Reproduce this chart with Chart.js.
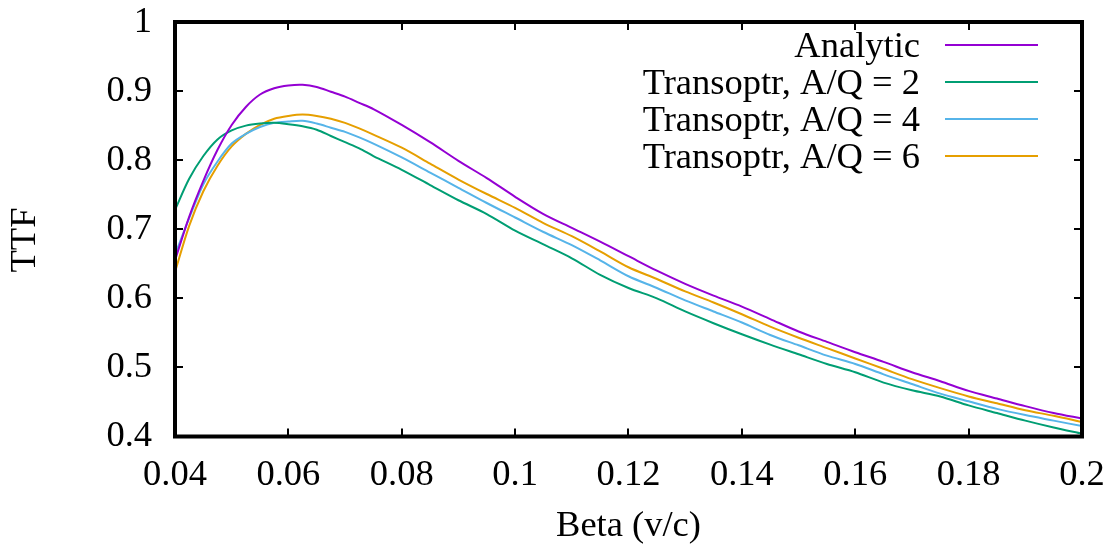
<!DOCTYPE html>
<html lang="en">
<head>
    <meta charset="UTF-8">
    <title>TTF vs Beta</title>
    <script src="https://cdn.jsdelivr.net/npm/chart.js"></script>
    <style>
        html, body { margin: 0; padding: 0; background: #fff; }
        #wrap { width: 1115px; height: 546px; }
    </style>
</head>
<body>
    <div id="wrap">
        <canvas id="ttfChart" width="1115" height="546"></canvas>
    </div>

    <script>
        // beta grid shared by all curves
        const beta = [
            0.04, 0.0425, 0.045, 0.0475, 0.05, 0.0525, 0.055, 0.0575, 0.06, 0.0625,
            0.065, 0.0675, 0.07, 0.0725, 0.075, 0.08, 0.085, 0.09, 0.095, 0.10,
            0.105, 0.11, 0.115, 0.12, 0.125, 0.13, 0.135, 0.14, 0.145, 0.15,
            0.155, 0.16, 0.165, 0.17, 0.175, 0.18, 0.185, 0.19, 0.195, 0.2
        ];

        const analytic = [
            0.655, 0.718, 0.770, 0.815, 0.851, 0.877, 0.895, 0.904, 0.908, 0.909,
            0.906, 0.899, 0.892, 0.883, 0.874, 0.851, 0.826, 0.799, 0.774, 0.747,
            0.722, 0.702, 0.682, 0.661, 0.640, 0.621, 0.604, 0.588, 0.570, 0.552,
            0.537, 0.522, 0.508, 0.493, 0.480, 0.466, 0.455, 0.444, 0.434, 0.426
        ];

        const aq2 = [
            0.728, 0.773, 0.806, 0.830, 0.843, 0.850, 0.853, 0.854, 0.852, 0.849,
            0.844, 0.835, 0.826, 0.817, 0.806, 0.786, 0.764, 0.742, 0.722, 0.698,
            0.678, 0.658, 0.634, 0.615, 0.600, 0.581, 0.564, 0.548, 0.533, 0.519,
            0.505, 0.493, 0.478, 0.467, 0.458, 0.445, 0.434, 0.423, 0.413, 0.404
        ];

        const aq4 = [
            0.663, 0.716, 0.765, 0.798, 0.824, 0.838, 0.848, 0.854, 0.856, 0.857,
            0.853, 0.847, 0.841, 0.833, 0.824, 0.804, 0.782, 0.760, 0.738, 0.717,
            0.696, 0.677, 0.655, 0.632, 0.615, 0.597, 0.581, 0.565, 0.547, 0.532,
            0.517, 0.505, 0.490, 0.476, 0.462, 0.451, 0.440, 0.431, 0.423, 0.415
        ];

        const aq6 = [
            0.638, 0.705, 0.755, 0.792, 0.820, 0.838, 0.851, 0.860, 0.864, 0.866,
            0.864, 0.860, 0.854, 0.846, 0.837, 0.818, 0.795, 0.772, 0.751, 0.731,
            0.709, 0.690, 0.668, 0.645, 0.628, 0.610, 0.594, 0.577, 0.559, 0.543,
            0.528, 0.513, 0.498, 0.483, 0.470, 0.458, 0.448, 0.438, 0.430, 0.421
        ];

        const seriesNames = ['Analytic', 'Transoptr, A/Q = 2', 'Transoptr, A/Q = 4', 'Transoptr, A/Q = 6'];
        const seriesColors = ['#9400d3', '#009e73', '#56b4e9', '#e69f00'];

        const xTicks = [0.04, 0.06, 0.08, 0.1, 0.12, 0.14, 0.16, 0.18, 0.2];
        const yTicks = [0.4, 0.5, 0.6, 0.7, 0.8, 0.9, 1];

        const FONT = '"Liberation Serif", "Times New Roman", serif';
        const FONT_SIZE = 36.5;

        const toPoints = vals => vals.map((v, i) => ({ x: beta[i], y: v }));
        const fmt = v => String(+v.toFixed(2));

        // keep tick labels from pushing the plot area around
        const noOverflow = s => {
            s.paddingTop = 0; s.paddingBottom = 0;
            s.paddingLeft = 0; s.paddingRight = 0;
        };

        // gnuplot-like frame: thick border, inward ticks on all four sides,
        // key in the top right corner, axis titles
        const frame = {
            id: 'frame',
            afterDatasetsDraw(chart) {
                const { ctx, chartArea: a, scales } = chart;
                ctx.save();
                ctx.strokeStyle = '#000';

                // ticks
                ctx.lineWidth = 2;
                const tl = 8;
                ctx.beginPath();
                xTicks.forEach(t => {
                    const px = Math.round(scales.x.getPixelForValue(t));
                    ctx.moveTo(px, a.bottom); ctx.lineTo(px, a.bottom - tl);
                    ctx.moveTo(px, a.top); ctx.lineTo(px, a.top + tl);
                });
                yTicks.forEach(t => {
                    const py = Math.round(scales.y.getPixelForValue(t));
                    ctx.moveTo(a.left, py); ctx.lineTo(a.left + tl, py);
                    ctx.moveTo(a.right, py); ctx.lineTo(a.right - tl, py);
                });
                ctx.stroke();

                // border
                ctx.lineWidth = 4;
                ctx.strokeRect(a.left, a.top, a.right - a.left, a.bottom - a.top);

                // key
                ctx.font = FONT_SIZE + 'px ' + FONT;
                ctx.fillStyle = '#000';
                ctx.textAlign = 'right';
                ctx.textBaseline = 'middle';
                chart.data.datasets.forEach((ds, i) => {
                    const y = 45 + i * 37;
                    ctx.fillText(ds.label, 920, y + 2);
                    ctx.strokeStyle = ds.borderColor;
                    ctx.lineWidth = 2;
                    ctx.beginPath();
                    ctx.moveTo(945, y);
                    ctx.lineTo(1038, y);
                    ctx.stroke();
                });

                // axis titles
                ctx.textAlign = 'center';
                ctx.fillText('Beta (v/c)', (a.left + a.right) / 2, 526);
                ctx.translate(25, 240);
                ctx.rotate(-Math.PI / 2);
                ctx.fillText('TTF', 0, 0);
                ctx.restore();
            }
        };

        new Chart(document.getElementById('ttfChart'), {
            type: 'line',
            data: {
                datasets: seriesNames.map((name, i) => ({
                    label: name,
                    data: toPoints([analytic, aq2, aq4, aq6][i]),
                    borderColor: seriesColors[i],
                    backgroundColor: seriesColors[i],
                    borderWidth: 2,
                    pointRadius: 0,
                    tension: 0.3,
                    fill: false
                }))
            },
            options: {
                responsive: false,
                animation: false,
                layout: { padding: { top: 22, right: 33, left: 0, bottom: 0 } },
                plugins: {
                    legend: { display: false },
                    tooltip: { enabled: false }
                },
                scales: {
                    x: {
                        type: 'linear',
                        min: 0.04,
                        max: 0.2,
                        afterBuildTicks: s => { s.ticks = xTicks.map(v => ({ value: v })); },
                        afterFit: s => { s.height = 109.5; noOverflow(s); },
                        grid: { display: false, drawTicks: false },
                        border: { display: false },
                        ticks: {
                            color: '#000',
                            padding: 17,
                            maxRotation: 0,
                            font: { family: FONT, size: FONT_SIZE },
                            callback: v => fmt(v)
                        }
                    },
                    y: {
                        min: 0.4,
                        max: 1,
                        afterBuildTicks: s => { s.ticks = yTicks.map(v => ({ value: v })); },
                        afterFit: s => { s.width = 175; noOverflow(s); },
                        grid: { display: false, drawTicks: false },
                        border: { display: false },
                        ticks: {
                            color: '#000',
                            padding: 23,
                            font: { family: FONT, size: FONT_SIZE },
                            callback: v => fmt(v)
                        }
                    }
                }
            },
            plugins: [frame]
        });
    </script>
</body>
</html>
